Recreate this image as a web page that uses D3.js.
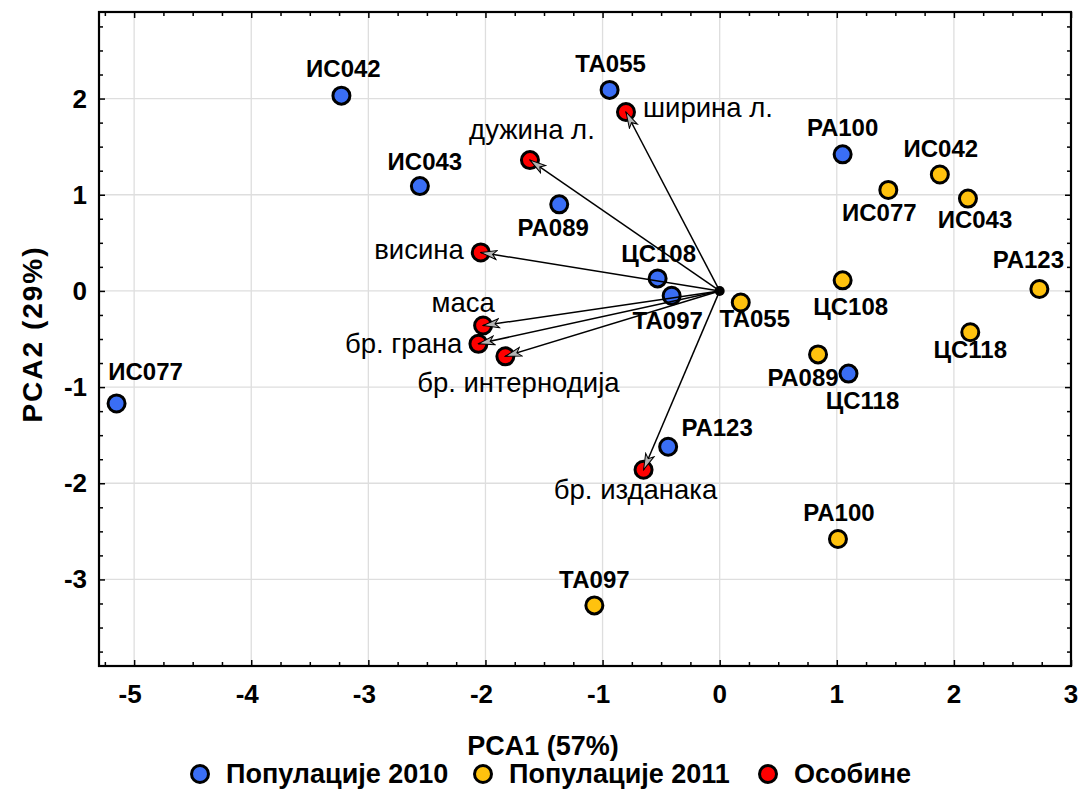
<!DOCTYPE html>
<html>
<head>
<meta charset="utf-8">
<script src="https://cdn.jsdelivr.net/npm/d3@7/dist/d3.min.js"></script>
<style>
  html, body { margin: 0; padding: 0; background: #fff; }
  svg { display: block; }
  text { font-family: "Liberation Sans", Arial, Helvetica, sans-serif; }
</style>
</head>
<body>
<svg id="chart" width="1083" height="789"></svg>
<script>
// ---------------- DATA ----------------
const pop2010Names = ["ИС042", "ИС043", "ИС077", "ТА055", "РА089", "ЦС108", "ТА097", "РА100", "ЦС118", "РА123"];
const pop2010X = [-3.23, -2.56, -5.15, -0.94, -1.37, -0.53, -0.41, 1.05, 1.10, -0.44];
const pop2010Y = [2.03, 1.09, -1.17, 2.09, 0.90, 0.13, -0.05, 1.42, -0.86, -1.62];

const pop2011Names = ["ИС042", "ИС077", "ИС043", "РА123", "ЦС108", "ТА055", "ЦС118", "РА089", "РА100", "ТА097"];
const pop2011X = [1.88, 1.44, 2.12, 2.73, 1.05, 0.18, 2.14, 0.84, 1.01, -1.07];
const pop2011Y = [1.21, 1.05, 0.96, 0.02, 0.11, -0.12, -0.43, -0.66, -2.58, -3.27];

const traitNames = ["ширина л.", "дужина л.", "висина", "маса", "бр. грана", "бр. интернодија", "бр. изданака"];
const traitX = [-0.80, -1.62, -2.04, -2.02, -2.06, -1.83, -0.65];
const traitY = [1.86, 1.36, 0.40, -0.36, -0.55, -0.68, -1.86];

const xTicks = [-5, -4, -3, -2, -1, 0, 1, 2, 3];
const yTicks = [-3, -2, -1, 0, 1, 2];
const legendLabels = ["Популације 2010", "Популације 2011", "Особине"];
const xTitle = "PCA1 (57%)";
const yTitle = "PCA2 (29%)";

// ---------------- STYLE / LAYOUT ----------------
const colors = { p2010: "#3a6ef5", p2011: "#ffc20e", trait: "#ff0000" };
// label placement: [anchor, dx, dy] in pixels relative to point
const pos2010 = [["middle", 2, -19], ["middle", 5, -16], ["middle", 29, -23], ["middle", 1, -18], ["middle", -6, 32],
                 ["middle", 1, -16], ["middle", -4, 33], ["middle", 0, -18], ["middle", 14, 35], ["middle", 49, -11]];
const pos2011 = [["middle", 1, -18], ["middle", -9, 31], ["middle", 7, 29], ["middle", -11, -21], ["middle", 8, 35],
                 ["middle", 14, 25], ["middle", 0, 26], ["middle", -15, 32], ["middle", 1, -18], ["middle", 0, -17]];
const posTrait = [["start", 17, 5], ["middle", 2, -21], ["end", -17, 7], ["middle", -20, -14], ["end", -16, 9],
                  ["middle", 13, 36], ["middle", -8, 29]];

const W = 1083, H = 789;
const plot = { left: 99, right: 1071, top: 12, bottom: 666 };

const svg = d3.select("#chart");
const x = d3.scaleLinear().domain([-5.3, 3.0]).range([plot.left, plot.right]);
const y = d3.scaleLinear().domain([-3.9, 2.9]).range([plot.bottom, plot.top]);

// grid
const grid = svg.append("g");
grid.selectAll("line.gx").data(xTicks.filter(d => d < 3)).join("line")
  .attr("x1", d => x(d)).attr("x2", d => x(d)).attr("y1", plot.top).attr("y2", plot.bottom)
  .attr("stroke", "#dedede").attr("stroke-width", 1.3);
grid.selectAll("line.gy").data(yTicks).join("line")
  .attr("y1", d => y(d)).attr("y2", d => y(d)).attr("x1", plot.left).attr("x2", plot.right)
  .attr("stroke", "#dedede").attr("stroke-width", 1.3);

// axes with inward ticks (major + minor)
const minorX = d3.range(-5.25, 3.0001, 0.25).filter(v => Math.abs(v - Math.round(v)) > 1e-6);
const minorY = d3.range(-3.75, 2.9001, 0.25).filter(v => Math.abs(v - Math.round(v)) > 1e-6);
function axisGroup(axisFn, scale, major, minor, transform) {
  const g = svg.append("g").attr("transform", transform);
  g.call(axisFn(scale).tickValues(minor).tickSize(-4).tickFormat(""));
  const g2 = svg.append("g").attr("transform", transform);
  g2.call(axisFn(scale).tickValues(major).tickSize(-6).tickFormat(""));
  [g, g2].forEach(gg => {
    gg.select(".domain").remove();
    gg.selectAll(".tick line").attr("stroke", "#000").attr("stroke-width", 1.5);
  });
  return g2;
}
axisGroup(d3.axisBottom, x, xTicks, minorX, `translate(0,${plot.bottom})`);
axisGroup(d3.axisTop, x, xTicks, minorX, `translate(0,${plot.top})`);
axisGroup(d3.axisLeft, y, yTicks, minorY, `translate(${plot.left},0)`);
axisGroup(d3.axisRight, y, yTicks, minorY, `translate(${plot.right},0)`);

svg.append("rect").attr("x", plot.left).attr("y", plot.top)
  .attr("width", plot.right - plot.left).attr("height", plot.bottom - plot.top)
  .attr("fill", "none").attr("stroke", "#000").attr("stroke-width", 2.2);

// tick labels
svg.append("g").selectAll("text").data(xTicks).join("text")
  .attr("x", d => x(d) - (d < 0 ? 4 : 0)).attr("y", 703)
  .attr("text-anchor", "middle").attr("font-size", 26).attr("font-weight", "bold")
  .text(d => d);
svg.append("g").selectAll("text").data(yTicks).join("text")
  .attr("x", 87).attr("y", d => y(d) + 9)
  .attr("text-anchor", "end").attr("font-size", 26).attr("font-weight", "bold")
  .text(d => d);

// axis titles
svg.append("text").attr("x", 543).attr("y", 755).attr("text-anchor", "middle")
  .attr("font-size", 27).attr("font-weight", "bold").text(xTitle);
svg.append("text").attr("transform", "translate(42,334) rotate(-90)").attr("text-anchor", "middle")
  .attr("font-size", 28).attr("font-weight", "bold").attr("letter-spacing", 2).text(yTitle);

// arrow marker
const defs = svg.append("defs");
defs.append("marker").attr("id", "arrow").attr("viewBox", "0 0 18 12")
  .attr("refX", 17).attr("refY", 6).attr("markerWidth", 18).attr("markerHeight", 12)
  .attr("markerUnits", "userSpaceOnUse").attr("orient", "auto")
  .append("path").attr("d", "M1,1.5 L17,6 L1,10.5 L5,6 Z")
  .attr("fill", "#b4b4b4").attr("stroke", "#000").attr("stroke-width", 1);

// points
function drawPoints(xs, ys, color) {
  svg.append("g").selectAll("circle").data(xs.map((d, i) => [d, ys[i]])).join("circle")
    .attr("cx", d => x(d[0])).attr("cy", d => y(d[1])).attr("r", 8.5)
    .attr("fill", color).attr("stroke", "#000").attr("stroke-width", 3);
}
drawPoints(pop2010X, pop2010Y, colors.p2010);
drawPoints(pop2011X, pop2011Y, colors.p2011);
drawPoints(traitX, traitY, colors.trait);

// arrows from origin to trait points
svg.append("g").selectAll("line").data(traitX.map((d, i) => [d, traitY[i]])).join("line")
  .attr("x1", x(0)).attr("y1", y(0))
  .attr("x2", d => x(d[0])).attr("y2", d => y(d[1]))
  .attr("stroke", "#000").attr("stroke-width", 1.5)
  .attr("marker-end", "url(#arrow)");
svg.append("circle").attr("cx", x(0)).attr("cy", y(0)).attr("r", 5).attr("fill", "#000");

// labels
function drawLabels(names, xs, ys, pos, bold, size) {
  svg.append("g").selectAll("text").data(names).join("text")
    .attr("x", (d, i) => x(xs[i]) + pos[i][1])
    .attr("y", (d, i) => y(ys[i]) + pos[i][2])
    .attr("text-anchor", (d, i) => pos[i][0])
    .attr("font-size", size).attr("font-weight", bold ? "bold" : "normal")
    .attr("fill", "#000")
    .text(d => d);
}
drawLabels(pop2010Names, pop2010X, pop2010Y, pos2010, true, 24);
drawLabels(pop2011Names, pop2011X, pop2011Y, pos2011, true, 24);
drawLabels(traitNames, traitX, traitY, posTrait, false, 27.5);

// legend
const legendX = [200, 483, 768];
const legendColors = [colors.p2010, colors.p2011, colors.trait];
const lg = svg.append("g");
legendLabels.forEach((lab, i) => {
  lg.append("circle").attr("cx", legendX[i]).attr("cy", 774).attr("r", 8.5)
    .attr("fill", legendColors[i]).attr("stroke", "#000").attr("stroke-width", 3);
  lg.append("text").attr("x", legendX[i] + 26).attr("y", 783)
    .attr("font-size", 27).attr("font-weight", "bold").text(lab);
});
</script>
</body>
</html>
